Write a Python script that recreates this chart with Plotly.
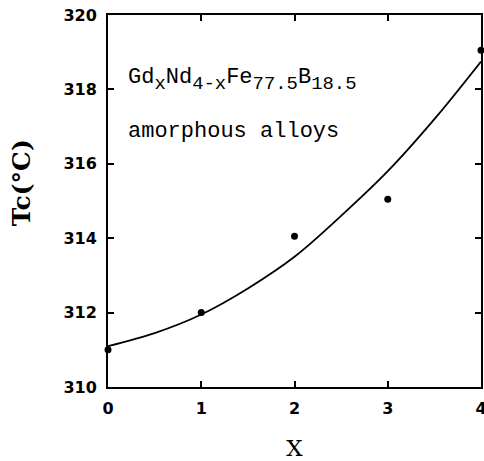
import plotly.graph_objects as go

x_pts = [0, 1, 2, 3, 4]
tc_pts = [311.0, 312.0, 314.05, 315.05, 319.05]

x_fit = [0, 0.5, 1, 1.5, 2, 2.5, 3, 3.5, 4]
tc_fit = [311.1, 311.45, 311.95, 312.65, 313.5, 314.6, 315.8, 317.2, 318.75]

x_ticks = [0, 1, 2, 3, 4]
y_ticks = [310, 312, 314, 316, 318, 320]

fig = go.Figure()
fig.add_trace(go.Scatter(x=x_fit, y=tc_fit, mode="lines", line=dict(color="black", width=1.8, shape="spline"),
                         showlegend=False, hoverinfo="skip"))
fig.add_trace(go.Scatter(x=x_pts, y=tc_pts, mode="markers", marker=dict(color="black", size=7),
                         showlegend=False, cliponaxis=False))

axis_common = dict(showgrid=False, zeroline=False, showline=True, linecolor="black", linewidth=2,
                   mirror="ticks", ticks="inside", ticklen=6, tickwidth=1.5, tickcolor="black",
                   automargin=False, ticklabelstandoff=6, ticklabeloverflow="allow",
                   tickfont=dict(family="DejaVu Sans", size=16, color="black", weight="bold"))

fig.update_xaxes(range=[0, 4], tickvals=x_ticks, ticktext=[str(v) for v in x_ticks],
                 title=dict(text="X", font=dict(family="DejaVu Serif", size=23, color="black"), standoff=28),
                 **axis_common)
fig.update_yaxes(range=[310, 320], tickvals=y_ticks, ticktext=[str(v) for v in y_ticks],
                 **axis_common)

fig.add_annotation(xref="paper", yref="paper", x=-0.231, y=0.55, xanchor="center", yanchor="middle",
                   text="Tc(°C)", showarrow=False, textangle=-90,
                   font=dict(family="DejaVu Serif", size=25, color="black", weight="bold"))

sub = "<span style='font-size:27px'><sub>{}</sub></span>"
formula = "Gd" + sub.format("x") + "Nd" + sub.format("4-x") + "Fe" + sub.format("77.5") + "B" + sub.format("18.5")
fig.add_annotation(xref="paper", yref="paper", x=0.048, y=0.825, xanchor="left", yanchor="middle",
                   text=formula, showarrow=False,
                   font=dict(family="Liberation Mono", size=22, color="black"))
fig.add_annotation(xref="paper", yref="paper", x=0.048, y=0.688, xanchor="left", yanchor="middle",
                   text="amorphous alloys", showarrow=False,
                   font=dict(family="Liberation Mono", size=22, color="black"))

fig.update_layout(width=484, height=461, margin=dict(l=108, r=3, t=15, b=74),
                  plot_bgcolor="white", paper_bgcolor="white")

fig.write_html("out.html", config={"displayModeBar": False},
               post_script="document.body.style.margin='0';document.body.style.overflow='hidden';")
